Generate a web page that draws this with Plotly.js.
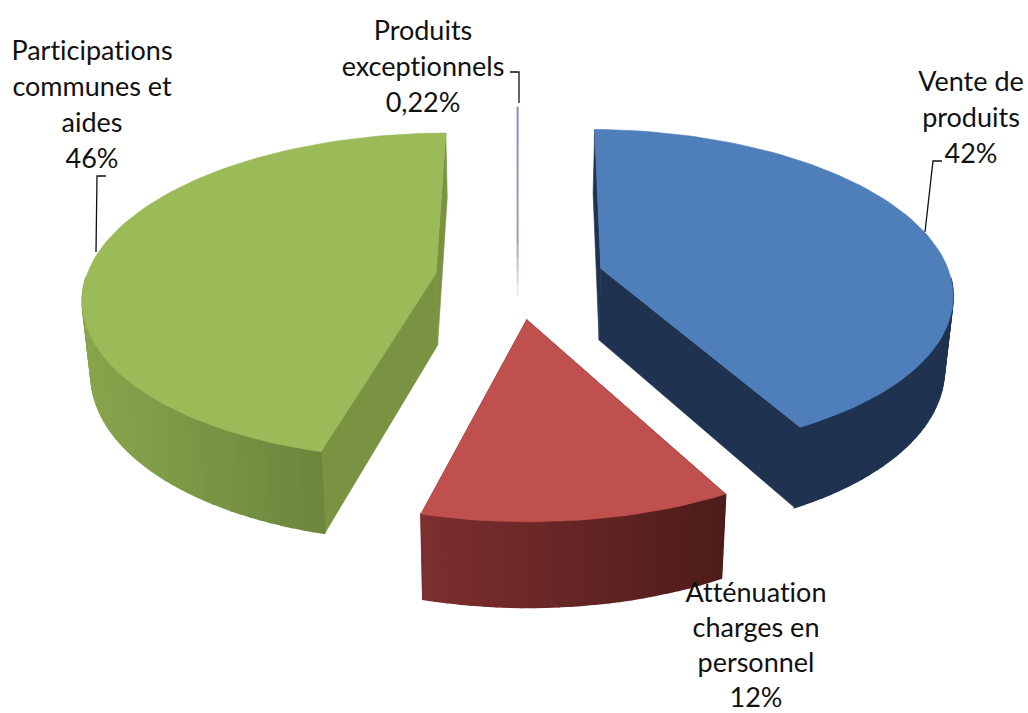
<!DOCTYPE html>
<html>
<head>
<meta charset="utf-8">
<script src="https://cdn.plot.ly/plotly-3.0.1.min.js"></script>
<style>html,body{margin:0;padding:0;background:#fff}#chart{width:1028px;height:713px}svg text{font-variant-ligatures:none!important;font-feature-settings:"liga" 0,"clig" 0,"dlig" 0!important;text-rendering:optimizeSpeed!important}</style>
</head>
<body>
<div id="chart"></div>
<script>
// Data, in pie order, clockwise from 12 o'clock
const categories = ["Vente de produits", "Atténuation charges en personnel", "Participations communes et aides", "Produits exceptionnels"];
const values = [42, 12, 46, 0.22];
const valueLabels = ["42%", "12%", "46%", "0,22%"];
const labelLines = [["Vente de", "produits"], ["Atténuation", "charges en", "personnel"], ["Participations", "communes et", "aides"], ["Produits", "exceptionnels"]];

// Styles
const topColors = ["#4f7fbb", "#c0504d", "#9bbb59", "#8f86b8"];
const rimStart = ["#1f3350", "#7c2f2e", "#88a54d", "#8f86b8"];
const rimEnd = ["#1f3350", "#4e1c1b", "#6b863c", "#8f86b8"];
const faceColors = ["#1f3350", "#5a2120", "#7a9342", "#a09cb4"];
const explode = [88, 88, 81, 88];

// Projection of the 3D pie
const CX = 516, CY = 278, R = 350, ROT = 0.8 * Math.PI / 180, TILT = 0.46, PERSP = 0.0004, DEPTH = 72;
const FONT = {family: "Lato, Carlito, sans-serif", size: 27, color: "#111"};

function proj(u, v) {
  const s = 1 / (1 - PERSP * v);
  return [CX + u * s, CY + TILT * v * s];
}
function drop(p) {
  return [CX + (p[0] - CX) * 0.98, p[1] + DEPTH + (p[1] - 275) * 0.055];
}
function hex(c) { return [1, 3, 5].map(i => parseInt(c.substr(i, 2), 16)); }
function mix(a, b, t) {
  const A = hex(a), B = hex(b);
  return "rgb(" + A.map((x, i) => Math.round(x + (B[i] - x) * t)).join(",") + ")";
}
function poly(pts, color, lw) {
  return {
    type: "scatter", mode: "lines", x: pts.map(p => p[0]).concat(pts[0][0]), y: pts.map(p => p[1]).concat(pts[0][1]),
    fill: "toself", fillcolor: color, line: {color: color, width: lw === undefined ? 0.6 : lw},
    hoverinfo: "skip", showlegend: false
  };
}

const total = values.reduce((a, b) => a + b, 0);
const slices = [];
let acc = 0;
values.forEach((val, i) => {
  const a0 = ROT + acc / total * 2 * Math.PI, a1 = ROT + (acc + val) / total * 2 * Math.PI;
  acc += val;
  const mid = (a0 + a1) / 2;
  const ox = explode[i] * Math.sin(mid), oy = -explode[i] * Math.cos(mid);
  const apex = proj(ox, oy);
  const n = Math.max(2, Math.round((a1 - a0) / 0.03));
  const arc = [];
  for (let j = 0; j <= n; j++) {
    const a = a0 + (a1 - a0) * j / n;
    arc.push(proj(ox + R * Math.sin(a), oy - R * Math.cos(a)));
  }
  slices.push({i, apex, arc});
});

const traces = [];
// far slices first, near slices last
[3, 2, 0, 1].forEach(i => {
  const {apex, arc} = slices[i];
  const first = arc[0], last = arc[arc.length - 1];
  if (i === 3) {
    // the sliver is so thin it reads as a line: purple on top, fading out along its cut face
    const tip = arc[Math.floor(arc.length / 2)], bottom = drop(apex);
    const x = (tip[0] + apex[0]) / 2, N = 16;
    for (let k = 0; k < N; k++) {
      const y0 = tip[1] + (bottom[1] - tip[1]) * k / N, y1 = tip[1] + (bottom[1] - tip[1]) * (k + 1) / N;
      const t = (k + 1) / N;
      const c = t < 0.7 ? mix(topColors[i], faceColors[i], t / 0.7) : mix(faceColors[i], "#ffffff", (t - 0.7) / 0.3);
      traces.push({type: "scatter", mode: "lines", x: [x, x], y: [y0, y1],
        line: {color: c, width: 2}, hoverinfo: "skip", showlegend: false});
    }
    return;
  }
  // cut faces
  traces.push(poly([apex, first, drop(first), drop(apex)], faceColors[i]));
  traces.push(poly([apex, last, drop(last), drop(apex)], faceColors[i]));
  // outer rim, strip by strip, shaded from left to right
  const xs = arc.filter(p => p[1] > CY).map(p => p[0]);
  const xMin = Math.min.apply(null, xs), xMax = Math.max.apply(null, xs);
  for (let j = 0; j < arc.length - 1; j++) {
    const p = arc[j], q = arc[j + 1];
    if (p[1] < CY && q[1] < CY) continue; // hidden behind the top surface
    const t = Math.min(1, Math.max(0, ((p[0] + q[0]) / 2 - xMin) / (xMax - xMin || 1)));
    traces.push(poly([p, q, drop(q), drop(p)], mix(rimStart[i], rimEnd[i], t), 1.6));
  }
  // top surface
  traces.push(poly([apex].concat(arc), topColors[i]));
});

// Leader lines
const leaders = [
  {x: [925, 933, 942], y: [232, 161, 161]},
  {x: [96, 97, 106], y: [252, 176, 176]},
  {x: [519, 519, 510], y: [103, 72, 72]}
];
leaders.forEach(l => traces.push({type: "scatter", mode: "lines", x: l.x, y: l.y,
  line: {color: "#111", width: 1.3}, hoverinfo: "skip", showlegend: false}));

// Labels, one text mark per line
const labelPos = [
  {x: 971, y: 84, step: 36}, {x: 756, y: 595, step: 35}, {x: 92, y: 53, step: 36}, {x: 423, y: 33, step: 36}
];
labelLines.forEach((lines, i) => {
  const all = lines.concat(valueLabels[i]);
  traces.push({type: "scatter", mode: "text",
    x: all.map(() => labelPos[i].x), y: all.map((_, k) => labelPos[i].y + k * labelPos[i].step),
    text: all, textposition: "middle center", textfont: FONT, cliponaxis: false,
    hoverinfo: "skip", showlegend: false});
});

Plotly.newPlot("chart", traces, {
  width: 1028, height: 713,
  margin: {l: 0, r: 0, t: 0, b: 0},
  paper_bgcolor: "#fff", plot_bgcolor: "#fff",
  showlegend: false, hovermode: false,
  xaxis: {range: [0, 1028], visible: false, fixedrange: true},
  yaxis: {range: [713, 0], visible: false, fixedrange: true}
}, {displayModeBar: false, staticPlot: true});
</script>
</body>
</html>
